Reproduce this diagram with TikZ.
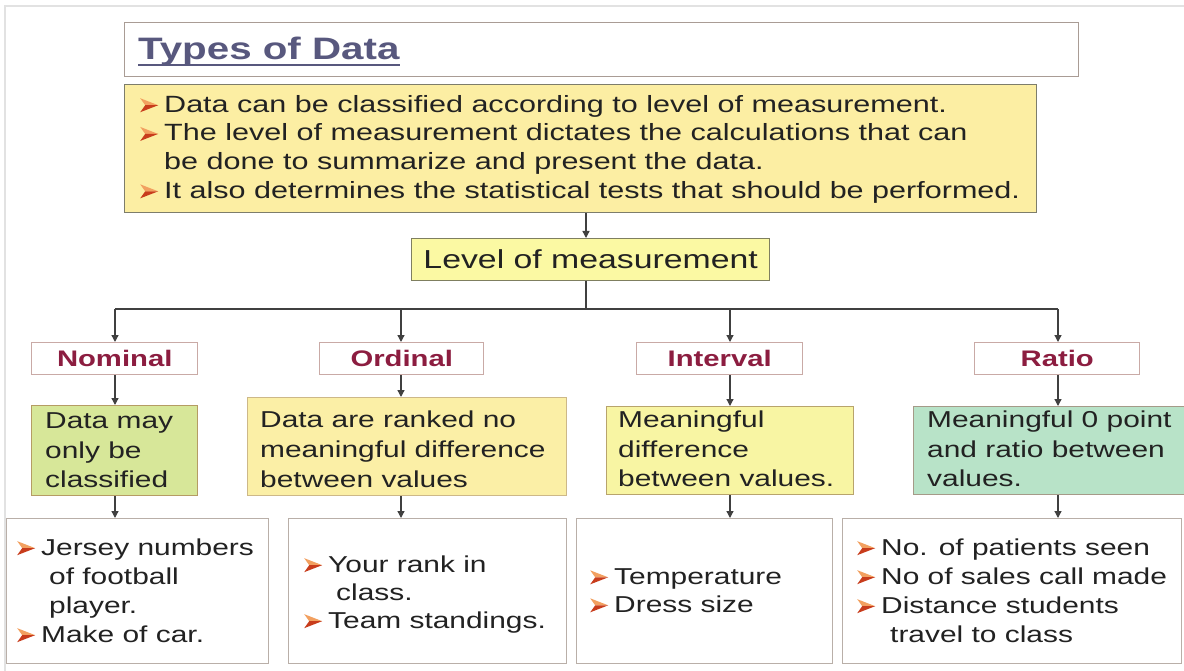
\documentclass[tikz,border=0pt]{standalone}
\usepackage{fontspec}
\setmainfont{Liberation Sans}[FakeStretch=1.3]
\usetikzlibrary{arrows.meta,calc}
\definecolor{framec}{HTML}{E2E2E2}
\definecolor{titleB}{HTML}{A99C95}
\definecolor{titleT}{HTML}{58587E}
\definecolor{yelF}{HTML}{FCEEA3}
\definecolor{yelB}{HTML}{7D7D6B}
\definecolor{lvlF}{HTML}{FBF9A3}
\definecolor{lvlB}{HTML}{7F7F60}
\definecolor{labB}{HTML}{C9AAA6}
\definecolor{labT}{HTML}{8C1D40}
\definecolor{nomF}{HTML}{D7E799}
\definecolor{nomB}{HTML}{B59C64}
\definecolor{ordF}{HTML}{FBEFA6}
\definecolor{ordB}{HTML}{CDB888}
\definecolor{intF}{HTML}{F8F5A3}
\definecolor{intB}{HTML}{B8A46C}
\definecolor{ratF}{HTML}{B8E3C8}
\definecolor{ratB}{HTML}{A59A88}
\definecolor{exB}{HTML}{B9AFA8}
\definecolor{lineC}{HTML}{404040}
\definecolor{txt}{HTML}{222222}
\definecolor{bulhi}{HTML}{F2A060}
\definecolor{bullo}{HTML}{C83C1C}
\newcommand\bul{\tikz[baseline=0pt,x=1pt,y=1pt]{\fill[bulhi] (0,14)--(18,7)--(5,7)--cycle;\fill[bullo] (0,0)--(18,7)--(5,7)--cycle;}\hspace{6pt}}
\begin{document}
\begin{tikzpicture}[x=1pt,y=-1pt,
  conn/.style={line width=1.3pt, draw=lineC, -{Triangle[length=7pt,width=7pt]}},
  plain/.style={line width=1.3pt, draw=lineC},
  bx/.style={rectangle, anchor=north west, inner sep=0pt, line width=1.4pt},
  body/.style={anchor=north west, align=left, inner sep=0pt, text=txt},
  lab/.style={rectangle, anchor=north west, draw=labB, fill=white, line width=1.4pt, minimum height=32pt, inner sep=0pt, text=labT, font=\bfseries\fontsize{22.5}{26}\selectfont},
]
\useasboundingbox (0,0) rectangle (1184,671);
\fill[white] (0,0) rectangle (1184,671);
\draw[framec, line width=1.5pt] (5,671) -- (5,6) -- (1184,6);

% title
\node[bx, draw=titleB, fill=white, minimum width=954pt, minimum height=54pt] (tbox) at (124,22) {};
\node[anchor=base west, inner sep=0pt, text=titleT, font=\bfseries\fontsize{31}{36}\selectfont] (title) at (138,60) {Types of Data};
\draw[titleT, line width=2pt] ($(title.base west)+(0,5)$) -- ($(title.base east)+(0,5)$);

% intro box
\node[bx, draw=yelB, fill=yelF, minimum width=912pt, minimum height=128pt] (ybox) at (124,84) {};
\node[body, font=\fontsize{23.5}{28.7}\selectfont] (ytext) at (140,95) {\bul Data can be classified according to level of measurement.\\
\bul The level of measurement dictates the calculations that can\\
\hspace*{24pt}be done to summarize and present the data.\\
\bul It also determines the statistical tests that should be performed.};

% level
\node[bx, draw=lvlB, fill=lvlF, minimum width=358pt, minimum height=42pt, text=txt, font=\fontsize{26}{30}\selectfont] (lvl) at (411,238) {Level of measurement};

\coordinate (j0) at (586,309);
\coordinate (jn) at (115,309);
\coordinate (jo) at (401,309);
\coordinate (ji) at (730,309);
\coordinate (jr) at (1058,309);

% labels
\node[lab, minimum width=166pt] (nom) at (31,342) {Nominal};
\node[lab, minimum width=164pt] (ord) at (319,342) {Ordinal};
\node[lab, minimum width=166pt] (int) at (636,342) {Interval};
\node[lab, minimum width=165pt] (rat) at (974,342) {Ratio};

% descriptions
\node[bx, draw=nomB, fill=nomF, minimum width=166pt, minimum height=90pt] (nd) at (31,405) {};
\node[bx, draw=ordB, fill=ordF, minimum width=319pt, minimum height=98pt] (od) at (247,397) {};
\node[bx, draw=intB, fill=intF, minimum width=247pt, minimum height=88pt] (id) at (606,406) {};
\node[bx, draw=ratB, fill=ratF, minimum width=290pt, minimum height=88pt] (rd) at (913,406) {};
\node[body, font=\fontsize{23}{29.5}\selectfont] (ndt) at (45,412.5) {Data may\\only be\\classified};
\node[body, font=\fontsize{23}{30}\selectfont] (odt) at (260,410.5) {Data are ranked no\\meaningful difference\\between values};
\node[body, font=\fontsize{23}{29.5}\selectfont] (idt) at (618,411) {Meaningful\\difference\\between values.};
\node[body, font=\fontsize{23}{29.5}\selectfont] (rdt) at (927,411) {Meaningful 0 point\\and ratio between\\values.};

% examples
\node[bx, draw=exB, fill=white, minimum width=262pt, minimum height=145pt] (ne) at (6,518) {};
\node[bx, draw=exB, fill=white, minimum width=278pt, minimum height=145pt] (oe) at (288,518) {};
\node[bx, draw=exB, fill=white, minimum width=256pt, minimum height=145pt] (ie) at (576,518) {};
\node[bx, draw=exB, fill=white, minimum width=339pt, minimum height=145pt] (re) at (842,518) {};
\node[body, font=\fontsize{23}{29}\selectfont] (net) at (17,538.3) {\bul Jersey numbers\\\hspace*{32pt}of football\\\hspace*{32pt}player.\\\bul Make of car.};
\node[body, font=\fontsize{23}{28}\selectfont] (oet) at (304,555.3) {\bul Your rank in\\\hspace*{32pt}class.\\\bul Team standings.};
\node[body, font=\fontsize{23}{28}\selectfont] (iet) at (590,568.3) {\bul Temperature\\\bul Dress size};
\node[body, font=\fontsize{23}{29}\selectfont] (ret) at (857,538.3) {\bul No. of patients seen\\\bul No of sales call made\\\bul Distance students\\\hspace*{33pt}travel to class};

% connectors
\draw[conn] (ybox.south -| j0) -- (lvl.north -| j0);
\draw[plain] (lvl.south -| j0) -- (j0);
\draw[plain] (jn) -- (jr);
\draw[conn] (jn) -- (nom.north -| jn);
\draw[conn] (jo) -- (ord.north -| jo);
\draw[conn] (ji) -- (int.north -| ji);
\draw[conn] (jr) -- (rat.north -| jr);
\draw[conn] (nom.south -| jn) -- (nd.north -| jn);
\draw[conn] (ord.south -| jo) -- (od.north -| jo);
\draw[conn] (int.south -| ji) -- (id.north -| ji);
\draw[conn] (rat.south -| jr) -- (rd.north -| jr);
\draw[conn] (nd.south -| jn) -- (ne.north -| jn);
\draw[conn] (od.south -| jo) -- (oe.north -| jo);
\draw[conn] (id.south -| ji) -- (ie.north -| ji);
\draw[conn] (rd.south -| jr) -- (re.north -| jr);
\end{tikzpicture}
\end{document}
